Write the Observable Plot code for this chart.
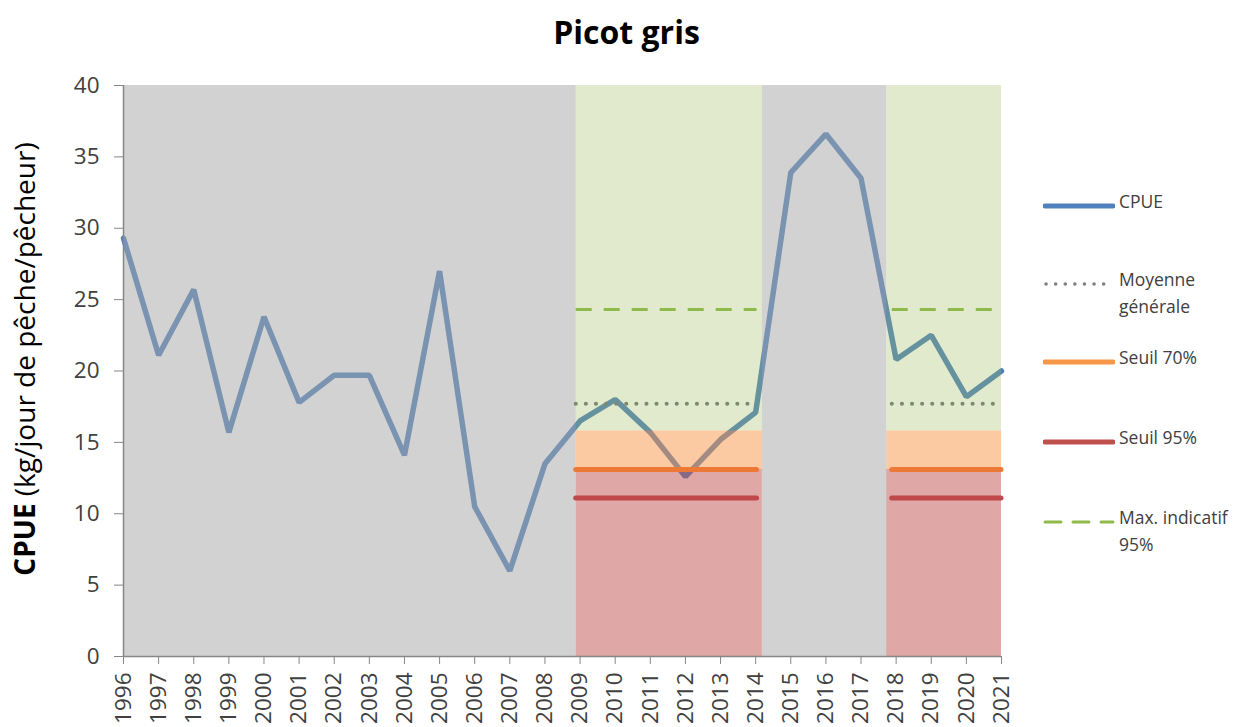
<!DOCTYPE html>
<html><head><meta charset="utf-8">
<script src="https://cdn.jsdelivr.net/npm/d3@7"></script>
<script src="https://cdn.jsdelivr.net/npm/@observablehq/plot@0.6"></script>
<style>
body{margin:0;background:#fff;}
#wrap{position:relative;width:1253px;height:727px;font-family:"Open Sans",sans-serif;color:#404040;overflow:hidden;}
#title{height:60px;line-height:64px;text-align:center;font-weight:bold;font-size:32px;color:#000;}
#ylab{position:absolute;left:24px;top:359px;transform:translate(-50%,-50%) rotate(-90deg);white-space:nowrap;font-size:28px;line-height:28px;color:#000;}
#legend{position:absolute;left:1043px;top:0;font-size:17.5px;color:#404040;}
.li{position:absolute;left:0;width:210px;display:flex;align-items:flex-start;}
.li svg{flex:none;margin-top:2px;}
.li span{margin-left:4px;line-height:27px;margin-top:-10px;}
</style></head>
<body>
<div id="wrap">
<div id="title">Picot gris</div>
<div id="chart"></div>
<div id="ylab"><b>CPUE</b> (kg/jour de pêche/pêcheur)</div>
<div id="legend"></div>
</div>
<script>
const years = [1996,1997,1998,1999,2000,2001,2002,2003,2004,2005,2006,2007,2008,2009,2010,2011,2012,2013,2014,2015,2016,2017,2018,2019,2020,2021];
const cpue  = [29.3,21.1,25.7,15.7,23.8,17.8,19.7,19.7,14.1,27.0,10.5,6.0,13.5,16.5,18.0,15.7,12.6,15.2,17.1,33.9,36.6,33.5,20.8,22.5,18.2,20.0];
const yTicks = [0,5,10,15,20,25,30,35,40];

// Shaded periods (assessment windows) and the grey periods between them
const grayStart = [1996, 2014.19];
const grayEnd   = [2008.89, 2017.73];
const zoneStart = [2008.89, 2017.73];
const zoneEnd   = [2014.19, 2021];
// zone boundaries on the CPUE axis
const zoneNames = ["vert", "orange", "rouge"];
const zoneLow   = [15.8, 13.1, 0];
const zoneHigh  = [40, 15.8, 13.1];
const zoneFill  = ["#9bbb59", "#f79646", "#c0504d"];
const zoneOpacity = [0.3, 0.5, 0.5];

// Reference lines for each window
const lineStart = [2008.89, 2017.89];
const lineEnd   = [2014.04, 2021];
const moyenne = 17.7, seuil70 = 13.1, seuil95 = 11.1, maxInd = 24.3;

const series = years.map((y,i)=>({year:y, cpue:cpue[i]}));
const grays = grayStart.map((s,i)=>({x1:s, x2:grayEnd[i]}));
const zones = [];
zoneStart.forEach((s,i)=>zoneNames.forEach((n,j)=>zones.push({x1:s,x2:zoneEnd[i],y1:zoneLow[j],y2:zoneHigh[j],fill:zoneFill[j],op:zoneOpacity[j]})));
const refs = [];
lineStart.forEach((s,i)=>{
  refs.push({x1:s,x2:lineEnd[i],y:moyenne,k:"moy"});
  refs.push({x1:s,x2:lineEnd[i],y:seuil70,k:"s70"});
  refs.push({x1:s,x2:lineEnd[i],y:seuil95,k:"s95"});
  refs.push({x1:s,x2:lineEnd[i],y:maxInd,k:"max"});
});
const font = "'Open Sans', sans-serif";

const chart = Plot.plot({
  width: 1253, height: 667,
  marginLeft: 123, marginRight: 252, marginTop: 25, marginBottom: 71,
  style: {fontFamily: font, fontSize: "22px", color: "#404040", background: "#fff"},
  x: {domain: [1996, 2021]},
  y: {domain: [0, 40]},
  marks: [
    Plot.line(series, {x: "year", y: "cpue", stroke: "#4f81bd", strokeWidth: 5.5, strokeLinejoin: "miter"}),
    Plot.rect(grays, {x1: "x1", x2: "x2", y1: 0, y2: 40, fill: "#a6a6a6", fillOpacity: 0.5}),
    Plot.rect(zones, {x1: "x1", x2: "x2", y1: "y1", y2: "y2", fill: d=>d.fill, fillOpacity: d=>d.op}),
    Plot.ruleY(refs.filter(d=>d.k==="s70"), {x1:"x1", x2:"x2", y:"y", stroke:"#ec7a36", strokeWidth:5, strokeLinecap:"round"}),
    Plot.ruleY(refs.filter(d=>d.k==="s95"), {x1:"x1", x2:"x2", y:"y", stroke:"#c0474a", strokeWidth:5, strokeLinecap:"round"}),
    Plot.ruleY(refs.filter(d=>d.k==="moy"), {x1:"x1", x2:"x2", y:"y", stroke:"#7b8a6e", strokeWidth:4, strokeLinecap:"round", strokeDasharray:"0.1,10"}),
    Plot.ruleY(refs.filter(d=>d.k==="max"), {x1:"x1", x2:"x2", y:"y", stroke:"#8fb94a", strokeWidth:3, strokeDasharray:"16,12"}),
    Plot.ruleX([1996], {y1: 0, y2: 40, stroke: "#868686", strokeWidth: 1.5}),
    Plot.ruleY([0], {x1: 1996, x2: 2021, stroke: "#868686", strokeWidth: 1.5}),
    Plot.axisY({ticks: yTicks, tickSize: 9, tickPadding: 15, label: null, stroke: "#868686", fill: "#404040", fontSize: 22.5}),
    Plot.axisX({ticks: years, tickFormat: d=>String(d), tickRotate: -90, tickSize: 8, tickPadding: 8, label: null, stroke: "#868686", fill: "#404040", fontSize: 22.5})
  ]
});
document.getElementById("chart").appendChild(chart);

// Legend
const legendItems = [
  {label:"CPUE", top:198, stroke:"#4f81bd", w:5, dash:null},
  {label:"Moyenne<br>générale", top:276, stroke:"#7f7f7f", w:3.5, dash:"0.1,9.5", cap:"round"},
  {label:"Seuil 70%", top:354, stroke:"#f79646", w:5, dash:null},
  {label:"Seuil 95%", top:434, stroke:"#c0504d", w:5, dash:null},
  {label:"Max. indicatif<br>95%", top:514, stroke:"#8fb94a", w:3, dash:"16,12"}
];
const leg = document.getElementById("legend");
legendItems.forEach(it=>{
  const d = document.createElement("div");
  d.className = "li"; d.style.top = it.top + "px";
  d.innerHTML = `<svg width="72" height="12"><line x1="${it.cap?3:2}" x2="70" y1="6" y2="6" stroke="${it.stroke}" stroke-width="${it.w}" stroke-linecap="${it.cap||'round'}" ${it.dash?`stroke-dasharray="${it.dash}"`:""}/></svg><span>${it.label}</span>`;
  leg.appendChild(d);
});
</script>
</body></html>
